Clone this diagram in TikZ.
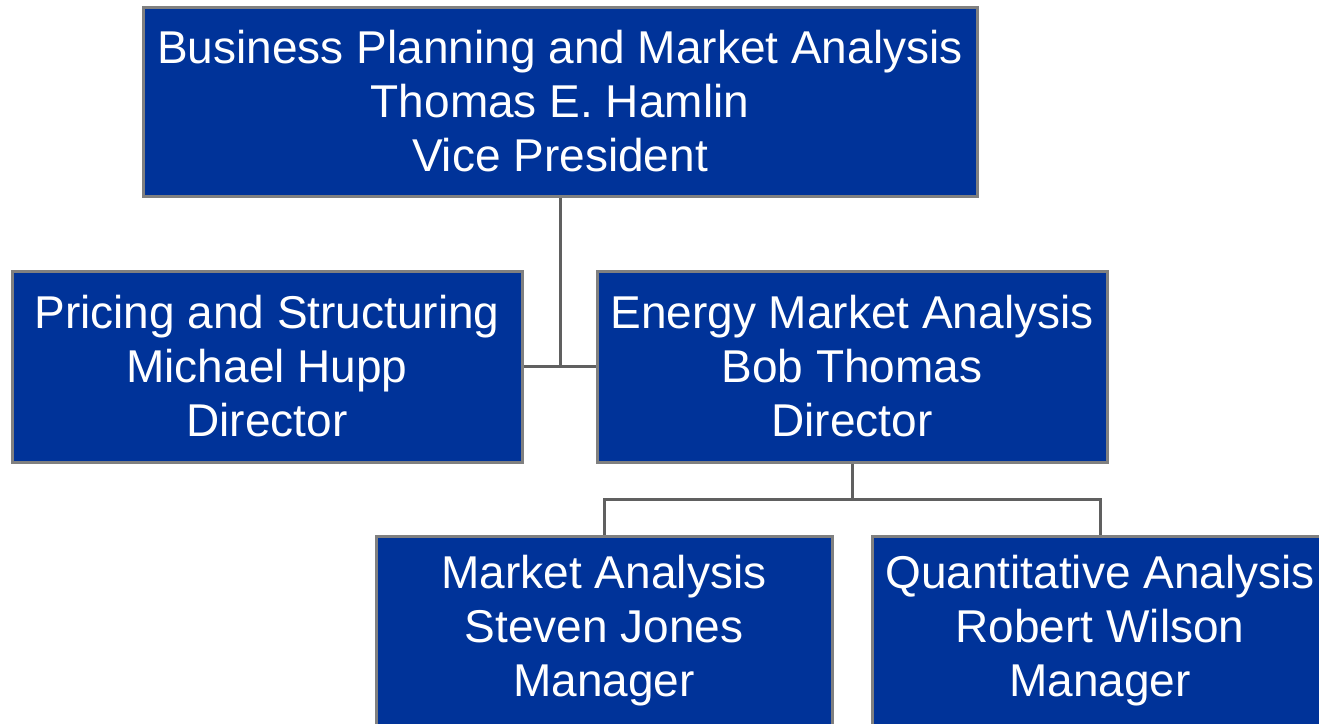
\documentclass[tikz,border=0pt]{standalone}
\usepackage{fontspec}
\setmainfont{Liberation Sans}
\usepackage{tikz}
\definecolor{orgblue}{HTML}{003399}
\definecolor{orgframe}{HTML}{808080}
\definecolor{orgline}{HTML}{606060}
\begin{document}
\begin{tikzpicture}[
  x=1pt, y=-1pt,
  unit/.style={draw=orgframe, line width=3, fill=orgblue, text=white,
    align=center, inner sep=0, font=\fontsize{46}{54}\selectfont},
  link/.style={draw=orgline, line width=3},
]
\useasboundingbox (0,0) rectangle (1319,723);
\clip (0,0) rectangle (1319,723);
% Leitung und Abteilungen
\node[unit, minimum width=834, minimum height=189] (vp) at (560,101.5)
  {Business Planning and Market Analysis\\Thomas E. Hamlin\\Vice President};
\node[unit, minimum width=510, minimum height=191] (pricing) at (267,366.5)
  {Pricing and Structuring\\Michael Hupp\\Director};
\node[unit, minimum width=510, minimum height=191] (energy) at (852,366.5)
  {Energy Market Analysis\\Bob Thomas\\Director};
\node[unit, minimum width=456, minimum height=190] (market) at (604,631)
  {Market Analysis\\Steven Jones\\Manager};
\node[unit, minimum width=456, minimum height=190] (quant) at (1100,631)
  {Quantitative Analysis\\Robert Wilson\\Manager};
% Verbindungen
\draw[link] (pricing.east) -- (energy.west);
\draw[link] (vp.south) -- (vp.south |- pricing.east);
\path (energy.south) ++(0,36) coordinate (ebus);
\draw[link] (energy.south) -- (ebus);
\draw[link] (market.north) |- (ebus) -| (quant.north);
\end{tikzpicture}
\end{document}
